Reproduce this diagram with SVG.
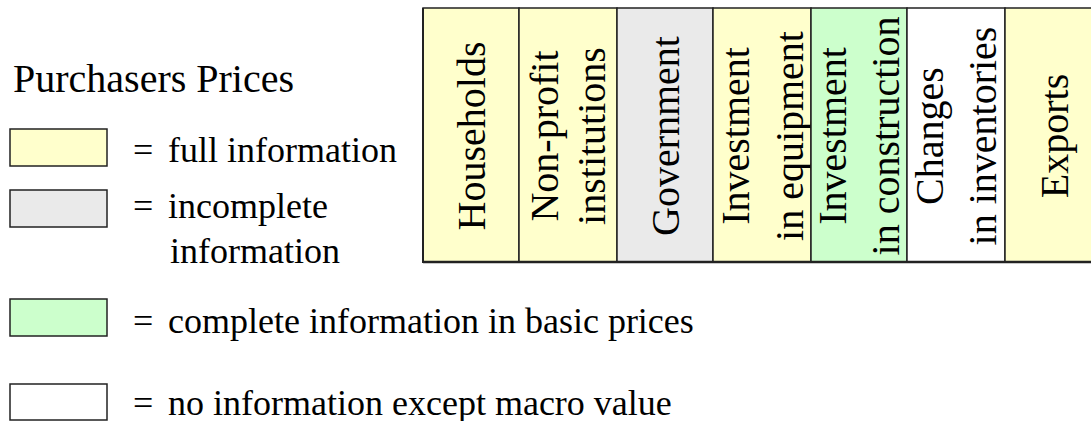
<svg xmlns="http://www.w3.org/2000/svg" width="1091" height="421" viewBox="0 0 1091 421">
<style>
.t { font-family: 'Liberation Serif', 'DejaVu Serif', serif; fill: #000; }
.title { font-size: 40px; }
.leg { font-size: 36px; }
.col { font-size: 40px; text-anchor: middle; }
.box { stroke: #222; stroke-width: 1.5; }
.yellow { fill: #FFFFCC; }
.gray { fill: #EAEAEA; }
.green { fill: #CCFFCC; }
.white { fill: #FFFFFF; }
</style>
<rect width="1091" height="421" fill="#FFFFFF"/>
<g id="legend" font-family="Liberation Serif, DejaVu Serif, serif">
  <text class="t title" x="13" y="92">Purchasers Prices</text>
  <g id="legend-full">
    <rect class="box yellow" x="10" y="129" width="97" height="37"/>
    <text class="t leg" y="162"><tspan x="133">=</tspan><tspan x="168">full information</tspan></text>
  </g>
  <g id="legend-incomplete">
    <rect class="box gray" x="10" y="190" width="97" height="37"/>
    <text class="t leg" y="218"><tspan x="133">=</tspan><tspan x="168">incomplete</tspan></text>
    <text class="t leg" x="170" y="263">information</text>
  </g>
  <g id="legend-basic">
    <rect class="box green" x="10" y="299" width="97" height="37"/>
    <text class="t leg" y="333"><tspan x="133">=</tspan><tspan x="168">complete information in basic prices</tspan></text>
  </g>
  <g id="legend-none">
    <rect class="box white" x="10" y="384" width="97" height="36"/>
    <text class="t leg" y="415"><tspan x="133">=</tspan><tspan x="168">no information except macro value</tspan></text>
  </g>
</g>
<g id="table" font-family="Liberation Serif, DejaVu Serif, serif">
  <g id="col-households">
    <rect class="box yellow" x="423" y="8" width="96" height="254"/>
    <text class="t col" transform="translate(485,136) rotate(-90)">Households</text>
  </g>
  <g id="col-nonprofit">
    <rect class="box yellow" x="519" y="8" width="98" height="254"/>
    <text class="t col" transform="translate(558,136) rotate(-90)">Non-profit</text>
    <text class="t col" transform="translate(605,136) rotate(-90)">institutions</text>
  </g>
  <g id="col-government">
    <rect class="box gray" x="617" y="8" width="96" height="254"/>
    <text class="t col" transform="translate(679,136) rotate(-90)">Government</text>
  </g>
  <g id="col-equipment">
    <rect class="box yellow" x="713" y="8" width="98" height="254"/>
    <text class="t col" transform="translate(749,136) rotate(-90)">Investment</text>
    <text class="t col" transform="translate(803,136) rotate(-90)">in equipment</text>
  </g>
  <g id="col-construction">
    <rect class="box green" x="811" y="8" width="96" height="254"/>
    <text class="t col" transform="translate(846,136) rotate(-90)">Investment</text>
    <text class="t col" transform="translate(899,136) rotate(-90)">in construction</text>
  </g>
  <g id="col-inventories">
    <rect class="box white" x="907" y="8" width="98" height="254"/>
    <text class="t col" transform="translate(943,136) rotate(-90)">Changes</text>
    <text class="t col" transform="translate(996,136) rotate(-90)">in inventories</text>
  </g>
  <g id="col-exports">
    <rect class="box yellow" x="1005" y="8" width="100" height="254"/>
    <text class="t col" transform="translate(1068,136) rotate(-90)">Exports</text>
  </g>
  <line x1="423" y1="262" x2="1091" y2="262" stroke="#222" stroke-width="2.5"/>
  <line x1="423" y1="8" x2="423" y2="263" stroke="#222" stroke-width="2"/>
</g>
</svg>
